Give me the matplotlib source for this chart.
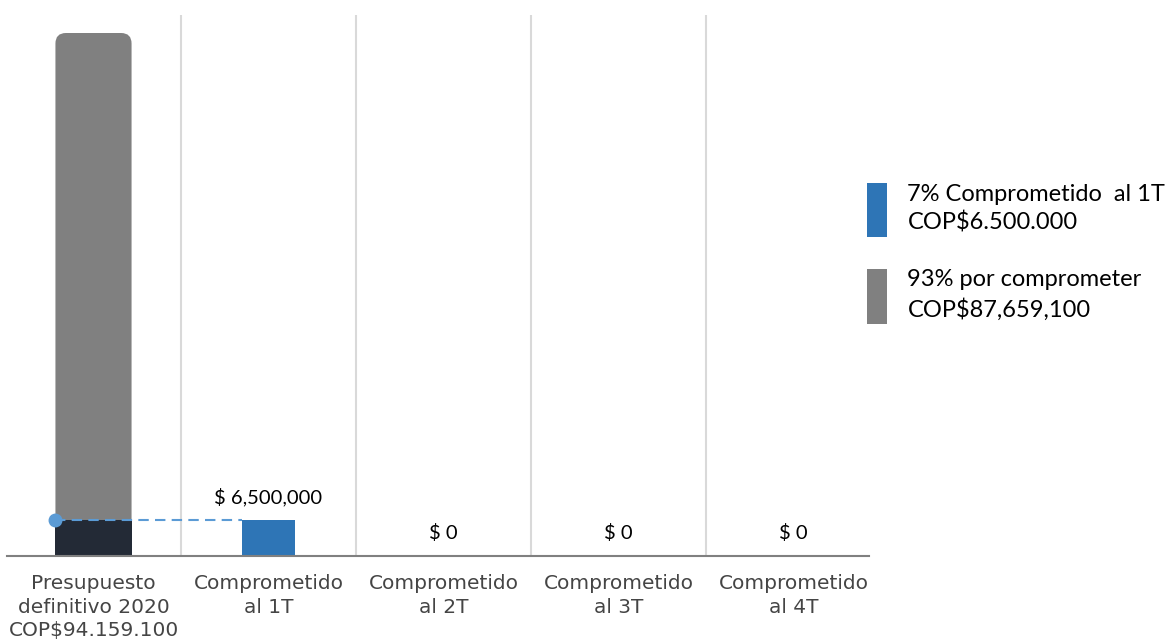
import matplotlib.pyplot as plt
from matplotlib.patches import FancyBboxPatch, Patch

categories = ['Presupuesto\ndefinitivo 2020\nCOP$94.159.100', 'Comprometido\nal 1T',
              'Comprometido\nal 2T', 'Comprometido\nal 3T', 'Comprometido\nal 4T']
total_budget = 94159100
committed_base = 6500000
committed_q = [6500000, 0, 0, 0]
q_labels = ['$ 6,500,000', '$ 0', '$ 0', '$ 0']
legend_labels = ['7% Comprometido  al 1T\nCOP$6.500.000', '93% por comprometer\nCOP$87,659,100']

grey = '#808080'
dark = '#232a36'
blue = '#2e75b6'
light_blue = '#5b9bd5'

fig = plt.figure(figsize=(11.71, 6.44), dpi=100)
ax = fig.add_axes([6 / 1171, 88 / 644, 875 / 1171, 541 / 644])

x = list(range(len(categories)))
ymax = total_budget * 541 / 523
ax.set_xlim(-0.5, 4.5)
ax.set_ylim(0, ymax)

# rounded grey bar (remaining budget, drawn full height behind the committed part)
w0 = 0.435
px_x = 875 / 5
px_y = 541 / ymax
bar = FancyBboxPatch((x[0] - w0 / 2, 0), w0, total_budget,
                     boxstyle='round,pad=0,rounding_size=0.06',
                     mutation_aspect=px_x / px_y, fc=grey, ec='none', zorder=2)
ax.add_patch(bar)
ax.bar(x[0], committed_base, width=w0, color=dark, zorder=3)

# quarterly bars
ax.bar(x[1:], committed_q, width=0.30, color=blue, zorder=3)
for xi, v, lab in zip(x[1:], committed_q, q_labels):
    ax.text(xi, v + total_budget * 0.026, lab, ha='center', va='bottom',
            fontsize=14.5, family='Lato', color='black')

# dashed connector
ax.plot([x[0] - w0 / 2, x[1] - 0.15], [committed_base, committed_base],
        ls=(0, (5, 3)), color=light_blue, lw=1.5, zorder=4)
ax.plot(x[0] - w0 / 2, committed_base, 'o', color=light_blue, ms=9, zorder=5)

# separators
for b in [0.5, 1.5, 2.5, 3.5]:
    ax.axvline(b, color='#d9d9d9', lw=1.5, zorder=1)

for s in ['top', 'right', 'left']:
    ax.spines[s].set_visible(False)
ax.spines['bottom'].set_color(grey)
ax.spines['bottom'].set_linewidth(1.5)
ax.spines['bottom'].set_bounds(-0.495, 4.43)
ax.spines['bottom'].set_zorder(6)
ax.set_yticks([])
ax.set_xticks(x)
ax.set_xticklabels(categories, fontsize=14.5, color='#454545', linespacing=1.3)
ax.tick_params(axis='x', length=0, pad=13)

handles = [Patch(fc=blue, ec='none'), Patch(fc=grey, ec='none')]
leg = fig.legend(handles, legend_labels, loc='upper left', bbox_to_anchor=(846 / 1171, 1 - 162 / 644),
                 frameon=False, handlelength=0.85, handleheight=3.15, handletextpad=0.85,
                 labelspacing=1.35, prop={'family': 'Lato', 'size': 17})
for t in leg.get_texts():
    t.set_linespacing(1.4)

fig.savefig('out.png', dpi=100)
